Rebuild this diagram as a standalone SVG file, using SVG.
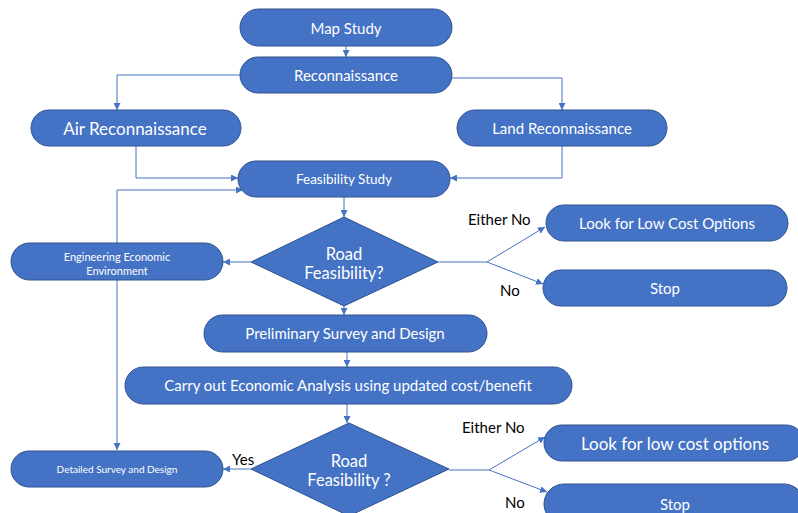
<svg xmlns="http://www.w3.org/2000/svg" width="798" height="513" viewBox="0 0 798 513">
<style>
.n{fill:#4472C4;stroke:#2F528F;stroke-width:1}
.t{fill:#fff;font-family:Lato,"Open Sans","Liberation Sans",sans-serif;text-anchor:middle;dominant-baseline:central}
.l{fill:#000;font-family:Lato,"Open Sans","Liberation Sans",sans-serif;font-size:15px}
.c{fill:none;stroke:#4472C4;stroke-width:1}
</style>
<defs>
<marker id="a" viewBox="0 0 10 10" refX="10" refY="5" markerWidth="7" markerHeight="7" markerUnits="userSpaceOnUse" orient="auto">
<path d="M0,0L10,5L0,10z" fill="#4472C4"/>
</marker>
</defs>
<g id="connectors">
<path class="c" d="M346,46V57" marker-end="url(#a)"/>
<path class="c" d="M240,75H117V110" marker-end="url(#a)"/>
<path class="c" d="M452,78H562V110" marker-end="url(#a)"/>
<path class="c" d="M136,146V178H238" marker-end="url(#a)"/>
<path class="c" d="M562,146V178H450" marker-end="url(#a)"/>
<path class="c" d="M117,243V190H243" marker-end="url(#a)"/>
<path class="c" d="M117,280V450" marker-end="url(#a)"/>
<path class="c" d="M344,197V217" marker-end="url(#a)"/>
<path class="c" d="M251,262H223" marker-end="url(#a)"/>
<path class="c" d="M438,262H487L545,227" marker-end="url(#a)"/>
<path class="c" d="M487,262L543,284" marker-end="url(#a)"/>
<path class="c" d="M344,306V315" marker-end="url(#a)"/>
<path class="c" d="M347,352V367" marker-end="url(#a)"/>
<path class="c" d="M347,404V423" marker-end="url(#a)"/>
<path class="c" d="M251,469H223" marker-end="url(#a)"/>
<path class="c" d="M449,470H489L545,437" marker-end="url(#a)"/>
<path class="c" d="M489,470L547,492" marker-end="url(#a)"/>
</g>
<g id="map-study"><rect class="n" x="240" y="9" width="212" height="37" rx="18.5"/><text class="t" x="346" y="28" font-size="15">Map Study</text></g>
<g id="reconnaissance"><rect class="n" x="240" y="57" width="212" height="36" rx="18"/><text class="t" x="346" y="75" font-size="15">Reconnaissance</text></g>
<g id="air-reconnaissance"><rect class="n" x="31" y="110" width="210" height="36" rx="18"/><text class="t" x="135" y="128" font-size="17">Air Reconnaissance</text></g>
<g id="land-reconnaissance"><rect class="n" x="457" y="110" width="210" height="36" rx="18"/><text class="t" x="562" y="128" font-size="15">Land Reconnaissance</text></g>
<g id="feasibility-study"><rect class="n" x="238" y="161" width="212" height="36" rx="18"/><text class="t" x="344" y="179" font-size="13.5">Feasibility Study</text></g>
<g id="road-feasibility-1"><polygon class="n" points="344,217 438,262 344,306 251,262"/><text class="t" x="344" y="254" font-size="16.5">Road</text><text class="t" x="344" y="273" font-size="16.5">Feasibility?</text></g>
<g id="engineering-economic"><rect class="n" x="11" y="243" width="212" height="37" rx="18.5"/><text class="t" x="117" y="256" font-size="11">Engineering Economic</text><text class="t" x="117" y="270" font-size="11">Environment</text></g>
<g id="look-low-cost-1"><rect class="n" x="546" y="205" width="242" height="36" rx="18"/><text class="t" x="667" y="223" font-size="15">Look for Low Cost Options</text></g>
<g id="stop-1"><rect class="n" x="543" y="270" width="244" height="36" rx="18"/><text class="t" x="665" y="288" font-size="15">Stop</text></g>
<g id="preliminary-survey"><rect class="n" x="204" y="315" width="283" height="37" rx="18.5"/><text class="t" x="345" y="333" font-size="15">Preliminary Survey and Design</text></g>
<g id="economic-analysis"><rect class="n" x="125" y="367" width="447" height="37" rx="18.5"/><text class="t" x="348" y="385" font-size="15">Carry out Economic Analysis using updated cost/benefit</text></g>
<g id="road-feasibility-2"><polygon class="n" points="349,423 449,469 349,516 251,469"/><text class="t" x="349" y="461" font-size="16.5">Road</text><text class="t" x="349" y="480" font-size="16.5">Feasibility ?</text></g>
<g id="detailed-survey"><rect class="n" x="11" y="451" width="212" height="36" rx="18"/><text class="t" x="117" y="469" font-size="10">Detailed Survey and Design</text></g>
<g id="look-low-cost-2"><rect class="n" x="544" y="425" width="260" height="36" rx="18"/><text class="t" x="675" y="443" font-size="17">Look for low cost options</text></g>
<g id="stop-2"><rect class="n" x="544" y="484" width="260" height="40" rx="20"/><text class="t" x="675" y="504" font-size="15">Stop</text></g>
<g id="labels">
<text class="l" x="468" y="225">Either No</text>
<text class="l" x="500" y="296">No</text>
<text class="l" x="232" y="465">Yes</text>
<text class="l" x="462" y="433">Either No</text>
<text class="l" x="505" y="508">No</text>
</g>
</svg>
